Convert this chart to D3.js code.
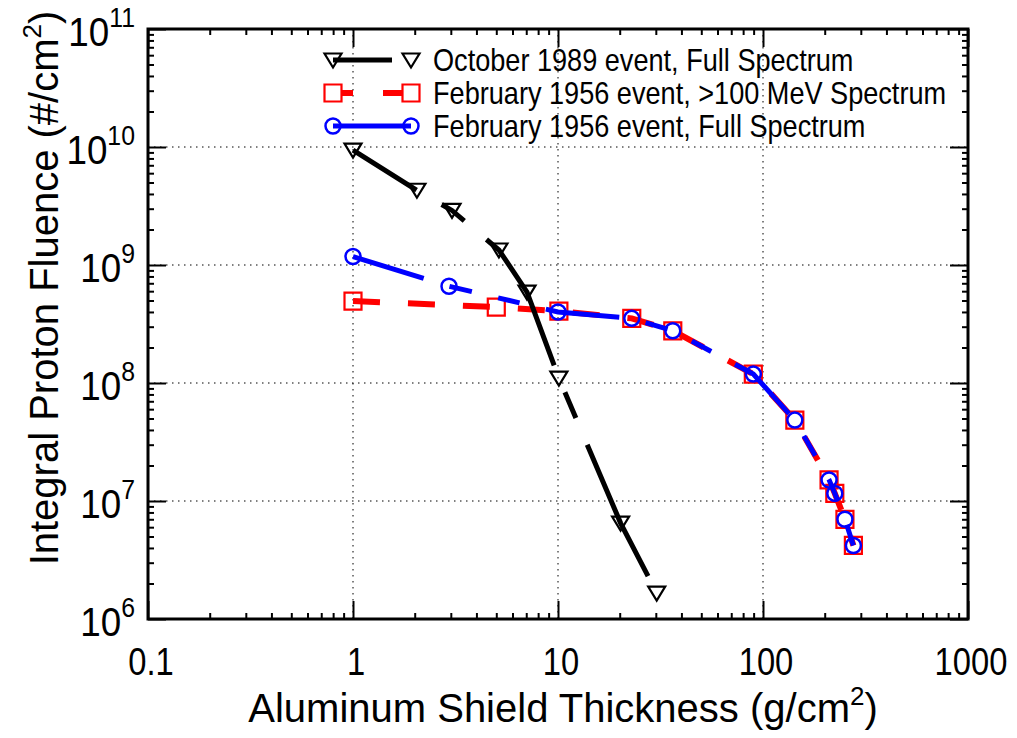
<!DOCTYPE html>
<html>
<head>
<meta charset="utf-8">
<script src="https://cdn.jsdelivr.net/npm/d3@7"></script>
<style>
  body { margin: 0; background: #fff; }
  text { font-family: "Liberation Sans", Arial, sans-serif; fill: #000; }
  .grid { stroke: #000; stroke-width: 1; stroke-dasharray: 1.5,4.5; fill: none; }
  .axis path, .axis line { stroke: #000; }
</style>
</head>
<body>
<div id="wrapper"></div>
<script>
// October 1989 event, full spectrum
const octX = [1, 2.05, 3.04, 5.15, 7.06, 10.1, 20.2, 30.3]
const octY = [9.4e9, 4.3e9, 2.9e9, 1.34e9, 5.9e8, 1.1e8, 6.5e6, 1.66e6]

// February 1956 event, >100 MeV spectrum
const febHighX = [1, 5.0, 10.1, 22.9, 36.3, 89.7, 143, 210, 224, 251, 276]
const febHighY = [4.95e8, 4.4e8, 4.07e8, 3.53e8, 2.77e8, 1.19e8, 4.85e7, 1.51e7, 1.16e7, 7.0e6, 4.2e6]

// February 1956 event, full spectrum
const febFullX = [1, 2.94, 10, 22.9, 36.3, 89.7, 143, 210, 224, 251, 276]
const febFullY = [1.18e9, 6.6e8, 4.0e8, 3.53e8, 2.77e8, 1.19e8, 4.85e7, 1.51e7, 1.16e7, 7.0e6, 4.2e6]

const xTicks = [0.1, 1, 10, 100, 1000]
const xTickLabels = ["0.1", "1", "10", "100", "1000"]
const yExponents = [6, 7, 8, 9, 10, 11]

const seriesNames = [
  "October 1989 event, Full Spectrum",
  "February 1956 event, >100 MeV Spectrum",
  "February 1956 event, Full Spectrum",
]

function drawChart() {
  const width = 1017
  const height = 738
  const margin = { top: 29, right: 49, bottom: 119, left: 148 }

  const svg = d3.select("#wrapper")
    .append("svg")
    .attr("width", width)
    .attr("height", height)

  const xScale = d3.scaleLog()
    .domain([0.1, 1000])
    .range([margin.left, width - margin.right])

  const yScale = d3.scaleLog()
    .domain([1e6, 1e11])
    .range([height - margin.bottom, margin.top])

  const [x0, x1] = xScale.range()
  const [y0, y1] = yScale.range()

  // narrow-looking text: squeeze horizontally
  const squeezed = (parent, x, y, sx) => parent.append("text")
    .attr("transform", `translate(${x},${y}) scale(${sx},1)`)

  // dotted grid at the decades
  const grid = svg.append("g")
  grid.selectAll(".gx")
    .data(xTicks.slice(1, -1))
    .enter().append("line")
    .attr("class", "grid")
    .attr("x1", d => xScale(d)).attr("x2", d => xScale(d))
    .attr("y1", y1).attr("y2", y0)
  grid.selectAll(".gy")
    .data(yExponents.slice(1, -1))
    .enter().append("line")
    .attr("class", "grid")
    .attr("y1", d => yScale(10 ** d)).attr("y2", d => yScale(10 ** d))
    .attr("x1", x0).attr("x2", x1)

  // minor + major tick values
  const minorX = []
  for (let e = -1; e < 3; e++) for (let m = 2; m < 10; m++) minorX.push(m * 10 ** e)
  const minorY = []
  for (let e = 6; e < 11; e++) for (let m = 2; m < 10; m++) minorY.push(m * 10 ** e)

  const addAxis = (axisFn, scale, values, size, translate) => {
    svg.append("g")
      .attr("class", "axis")
      .attr("transform", translate)
      .call(axisFn(scale).tickValues(values).tickSize(size).tickFormat(""))
      .call(g => g.select(".domain").remove())
      .call(g => g.selectAll("line").attr("stroke-width", 2))
  }
  addAxis(d3.axisBottom, xScale, minorX, -6, `translate(0,${y0})`)
  addAxis(d3.axisBottom, xScale, xTicks, -18, `translate(0,${y0})`)
  addAxis(d3.axisTop, xScale, minorX, -6, `translate(0,${y1})`)
  addAxis(d3.axisTop, xScale, xTicks, -18, `translate(0,${y1})`)
  addAxis(d3.axisLeft, yScale, minorY, -6, `translate(${x0},0)`)
  addAxis(d3.axisLeft, yScale, yExponents.map(e => 10 ** e), -18, `translate(${x0},0)`)
  addAxis(d3.axisRight, yScale, minorY, -6, `translate(${x1},0)`)
  addAxis(d3.axisRight, yScale, yExponents.map(e => 10 ** e), -18, `translate(${x1},0)`)

  // frame
  svg.append("rect")
    .attr("x", x0).attr("y", y1)
    .attr("width", x1 - x0).attr("height", y0 - y1)
    .attr("fill", "none")
    .attr("stroke", "#000")
    .attr("stroke-width", 3)

  // tick labels
  const xLabelGroup = svg.append("g")
  xTicks.forEach((d, i) => {
    squeezed(xLabelGroup, xScale(d) + 3, y0 + 56, 0.84)
      .attr("text-anchor", "middle")
      .style("font-size", "39px")
      .text(xTickLabels[i])
  })

  const yLabelGroup = svg.append("g")
  yExponents.forEach(e => {
    const t = squeezed(yLabelGroup, 135, yScale(10 ** e) + 17, 0.92)
      .attr("text-anchor", "end")
      .style("font-size", "40px")
    t.append("tspan").text("10")
    t.append("tspan")
      .attr("dy", -19)
      .style("font-size", "27px")
      .text(e)
  })

  // axis titles
  const xTitle = svg.append("text")
    .attr("x", (x0 + x1) / 2 + 5)
    .attr("y", 722)
    .attr("text-anchor", "middle")
    .style("font-size", "40px")
  xTitle.append("tspan").text("Aluminum Shield Thickness (g/cm")
  xTitle.append("tspan").attr("dy", -17).style("font-size", "26px").text("2")
  xTitle.append("tspan").attr("dy", 17).text(")")

  const yTitle = svg.append("text")
    .attr("transform", `translate(58,${(y0 + y1) / 2 - 36}) rotate(-90)`)
    .attr("text-anchor", "middle")
    .style("font-size", "40px")
  yTitle.append("tspan").text("Integral Proton Fluence (#/cm")
  yTitle.append("tspan").attr("dy", -17).style("font-size", "26px").text("2")
  yTitle.append("tspan").attr("dy", 17).text(")")

  const line = d3.line()
    .x(d => xScale(d[0]))
    .y(d => yScale(d[1]))

  const triangle = "M-8.5,-6.5L8.5,-6.5L0,7.5Z"
  const square = d3.symbol(d3.symbolSquare, 289)()

  const series = [
    { xs: octX, ys: octY, color: "#000", width: 5, dash: "145,29,28,29", offset: 70, marker: "tri" },
    { xs: febHighX, ys: febHighY, color: "#ff0000", width: 6, dash: "27,28", offset: 0, marker: "sq" },
    { xs: febFullX, ys: febFullY, color: "#0000ff", width: 5, dash: "74,27,23,27,22,27", offset: 0, marker: "ci" },
  ]

  const drawMarker = (g, m, color, x, y) => {
    if (m === "tri") {
      g.append("path").attr("d", triangle)
        .attr("transform", `translate(${x},${y})`)
        .attr("fill", "none").attr("stroke", color).attr("stroke-width", 2.2)
    } else if (m === "sq") {
      g.append("path").attr("d", square)
        .attr("transform", `translate(${x},${y})`)
        .attr("fill", "none").attr("stroke", color).attr("stroke-width", 2.2)
    } else {
      g.append("circle").attr("cx", x).attr("cy", y).attr("r", 7.5)
        .attr("fill", "none").attr("stroke", color).attr("stroke-width", 2.5)
    }
  }

  // draw red and blue first, black on top
  const drawOrder = [1, 2, 0]
  drawOrder.forEach(k => {
    const s = series[k]
    const pts = s.xs.map((x, i) => [x, s.ys[i]])
    svg.append("path")
      .attr("d", line(pts))
      .attr("fill", "none")
      .attr("stroke", s.color)
      .attr("stroke-width", s.width)
      .attr("stroke-dasharray", s.dash)
      .attr("stroke-dashoffset", s.offset)
    const g = svg.append("g")
    pts.forEach(p => drawMarker(g, s.marker, s.color, xScale(p[0]), yScale(p[1])))
  })

  // legend
  const legendRows = [60, 93, 126]
  const legendDash = ["59,100", "12,30,20,100", "none"]
  const legendOffset = [0, -8, 0]
  series.forEach((s, i) => {
    const g = svg.append("g")
    g.append("line")
      .attr("x1", 333).attr("x2", 411)
      .attr("y1", legendRows[i]).attr("y2", legendRows[i])
      .attr("stroke", s.color)
      .attr("stroke-width", s.width)
      .attr("stroke-dasharray", legendDash[i])
      .attr("stroke-dashoffset", legendOffset[i])
    drawMarker(g, s.marker, s.color, 333, legendRows[i])
    drawMarker(g, s.marker, s.color, 411, legendRows[i])
    squeezed(g, 433, legendRows[i] + 11, 0.875)
      .style("font-size", "31px")
      .text(seriesNames[i])
  })
}

drawChart()
</script>
</body>
</html>
